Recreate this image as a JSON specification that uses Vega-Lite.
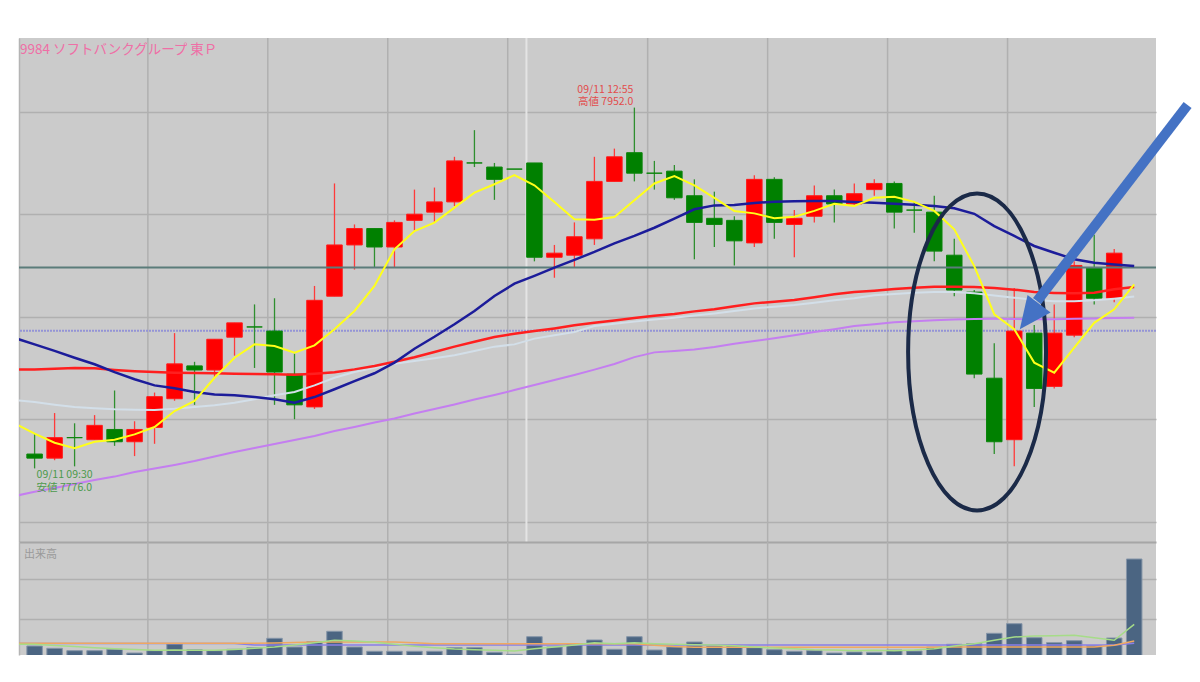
{
"$schema": "https://vega.github.io/schema/vega-lite/v6.json",
"background": "white",
"padding": {"left": 18, "top": 37, "right": 0, "bottom": 0},
"spacing": 0,
"bounds": "flush",
"config": {"view": {"fill": "#cbcbcb", "stroke": null}, "axis": {"labels": false, "ticks": false, "domain": false, "grid": false}, "font": "Noto Sans CJK JP"},
"datasets": {
"candles": [
{"i":-1,"t":"09:25","m5":7798,"m25":7839.6,"m75":7824.3,"mlb":7809.4,"mpu":7762.5,"vg":146000,"vo":154000,"vp":152000},
{"i":0,"t":"09:30","o":7783,"h":7793,"l":7776,"c":7781,"v":127000,"m5":7793,"m25":7836.5,"m75":7824.3,"mlb":7808.4,"mpu":7764.6,"vg":144000,"vo":154000,"vp":152000},
{"i":1,"t":"09:35","o":7781,"h":7803,"l":7780,"c":7791,"v":104000,"m5":7788.5,"m25":7833.3,"m75":7824.6,"mlb":7807.1,"mpu":7766.4,"vg":133000,"vo":154000,"vp":152000},
{"i":2,"t":"09:40","o":7791,"h":7798,"l":7777,"c":7791,"v":80000,"m5":7785.8,"m25":7830,"m75":7825,"mlb":7806,"mpu":7768.4,"vg":122000,"vo":154000,"vp":152000},
{"i":3,"t":"09:45","o":7790,"h":7802,"l":7790,"c":7797,"v":80000,"m5":7789,"m25":7826.8,"m75":7824.8,"mlb":7805.3,"mpu":7770.3,"vg":110000,"vo":154000,"vp":152000},
{"i":4,"t":"09:50","o":7795,"h":7814,"l":7787,"c":7789,"v":94000,"m5":7790,"m25":7823,"m75":7824,"mlb":7804.8,"mpu":7772,"vg":100000,"vo":154000,"vp":152000},
{"i":5,"t":"09:55","o":7789,"h":7799,"l":7782,"c":7795,"v":57000,"m5":7792.6,"m25":7819.5,"m75":7823.4,"mlb":7804.6,"mpu":7774.2,"vg":92000,"vo":154000,"vp":152000},
{"i":6,"t":"10:00","o":7796,"h":7813,"l":7788,"c":7811,"v":80000,"m5":7796.2,"m25":7816.5,"m75":7823,"mlb":7804.5,"mpu":7775.9,"vg":84000,"vo":154000,"vp":152000},
{"i":7,"t":"10:05","o":7810,"h":7842,"l":7809,"c":7827,"v":147000,"m5":7804,"m25":7815.1,"m75":7822.7,"mlb":7805.1,"mpu":7777.7,"vg":88000,"vo":154000,"vp":152000},
{"i":8,"t":"10:10","o":7826,"h":7828,"l":7807,"c":7824,"v":90000,"m5":7808.9,"m25":7813.3,"m75":7822.5,"mlb":7806,"mpu":7779.6,"vg":84000,"vo":154000,"vp":152000},
{"i":9,"t":"10:15","o":7824,"h":7839,"l":7820,"c":7839,"v":80000,"m5":7820.2,"m25":7812.1,"m75":7822.4,"mlb":7806.8,"mpu":7781.8,"vg":84000,"vo":154000,"vp":152000},
{"i":10,"t":"10:20","o":7840,"h":7847,"l":7831,"c":7847,"v":94000,"m5":7830,"m25":7811.7,"m75":7822.2,"mlb":7808,"mpu":7784,"vg":92000,"vo":154000,"vp":152000},
{"i":11,"t":"10:25","o":7845,"h":7856,"l":7825,"c":7845,"v":110000,"m5":7836.5,"m25":7810.8,"m75":7822,"mlb":7809.7,"mpu":7786,"vg":104000,"vo":154000,"vp":137000},
{"i":12,"t":"10:30","o":7843,"h":7859,"l":7807,"c":7823,"v":204000,"m5":7835.7,"m25":7809.7,"m75":7821.9,"mlb":7811.7,"mpu":7787.9,"vg":117000,"vo":158000,"vp":137000},
{"i":13,"t":"10:35","o":7822,"h":7832,"l":7800,"c":7807,"v":117000,"m5":7832.4,"m25":7808,"m75":7821.7,"mlb":7813.3,"mpu":7789.9,"vg":137000,"vo":162000,"vp":137000},
{"i":14,"t":"10:40","o":7806,"h":7865,"l":7805,"c":7858,"v":170000,"m5":7836,"m25":7810.8,"m75":7822.2,"mlb":7816.5,"mpu":7791.8,"vg":160000,"vo":166000,"vp":137000},
{"i":15,"t":"10:45","o":7860,"h":7915,"l":7860,"c":7885,"v":274000,"m5":7843.9,"m25":7814.6,"m75":7822.9,"mlb":7820.2,"mpu":7794.2,"vg":184000,"vo":166000,"vp":137000},
{"i":16,"t":"10:50","o":7885,"h":7895,"l":7873,"c":7893,"v":117000,"m5":7852.8,"m25":7818.6,"m75":7824.3,"mlb":7823,"mpu":7796.2,"vg":177000,"vo":166000,"vp":137000},
{"i":17,"t":"10:55","o":7893,"h":7893,"l":7874,"c":7884,"v":74000,"m5":7865,"m25":7822.4,"m75":7826,"mlb":7825.1,"mpu":7798.4,"vg":165000,"vo":166000,"vp":137000},
{"i":18,"t":"11:00","o":7884,"h":7897,"l":7874,"c":7896,"v":74000,"m5":7882.9,"m25":7827.6,"m75":7828,"mlb":7827.1,"mpu":7800.3,"vg":144000,"vo":166000,"vp":137000},
{"i":19,"t":"11:05","o":7897,"h":7912,"l":7892,"c":7900,"v":74000,"m5":7891.8,"m25":7834.4,"m75":7830.2,"mlb":7828.4,"mpu":7802.8,"vg":125000,"vo":160000,"vp":137000},
{"i":20,"t":"11:10","o":7901,"h":7913,"l":7896,"c":7906,"v":74000,"m5":7895.9,"m25":7840.2,"m75":7832.8,"mlb":7829.7,"mpu":7805,"vg":110000,"vo":150000,"vp":137000},
{"i":21,"t":"11:15","o":7906,"h":7928,"l":7904,"c":7926,"v":110000,"m5":7903.2,"m25":7846.3,"m75":7835.4,"mlb":7831.2,"mpu":7807.2,"vg":97000,"vo":150000,"vp":137000},
{"i":22,"t":"11:20","o":7925,"h":7941,"l":7923,"c":7925,"v":110000,"m5":7910.5,"m25":7852.8,"m75":7837.8,"mlb":7833.3,"mpu":7809.6,"vg":90000,"vo":150000,"vp":137000},
{"i":23,"t":"11:25","o":7923,"h":7925,"l":7907,"c":7917,"v":64000,"m5":7914.6,"m25":7860.1,"m75":7840.1,"mlb":7835.4,"mpu":7811.8,"vg":84000,"vo":150000,"vp":137000},
{"i":24,"t":"11:30","o":7922,"h":7922,"l":7922,"c":7922,"v":44000,"m5":7919.1,"m25":7866.1,"m75":7841.7,"mlb":7836.5,"mpu":7814.2,"vg":77000,"vo":150000,"vp":137000},
{"i":25,"t":"12:30","o":7925,"h":7925,"l":7877,"c":7879,"v":220000,"m5":7914.1,"m25":7869.9,"m75":7843,"mlb":7839.3,"mpu":7816.7,"vg":100000,"vo":150000,"vp":137000},
{"i":26,"t":"12:35","o":7879,"h":7885,"l":7869,"c":7881,"v":117000,"m5":7906,"m25":7873.9,"m75":7844.3,"mlb":7840.9,"mpu":7819.1,"vg":117000,"vo":150000,"vp":137000},
{"i":27,"t":"12:40","o":7880,"h":7896,"l":7874,"c":7889,"v":147000,"m5":7897.5,"m25":7877.7,"m75":7845.8,"mlb":7842.5,"mpu":7821.6,"vg":137000,"vo":150000,"vp":137000},
{"i":28,"t":"12:45","o":7888,"h":7928,"l":7885,"c":7916,"v":187000,"m5":7897.3,"m25":7881.6,"m75":7847.1,"mlb":7845.5,"mpu":7824.2,"vg":160000,"vo":150000,"vp":137000},
{"i":29,"t":"12:50","o":7916,"h":7932,"l":7916,"c":7928,"v":94000,"m5":7898.6,"m25":7885.8,"m75":7848.2,"mlb":7846.6,"mpu":7826.9,"vg":150000,"vo":150000,"vp":137000},
{"i":30,"t":"12:55","o":7930,"h":7952,"l":7916,"c":7920,"v":220000,"m5":7906.8,"m25":7889.4,"m75":7849.4,"mlb":7847.6,"mpu":7830.3,"vg":160000,"vo":150000,"vp":137000},
{"i":31,"t":"13:00","o":7920,"h":7926,"l":7912,"c":7920,"v":87000,"m5":7915,"m25":7893.4,"m75":7850.5,"mlb":7848.6,"mpu":7832.6,"vg":150000,"vo":135000,"vp":137000},
{"i":32,"t":"13:05","o":7921,"h":7924,"l":7907,"c":7908,"v":117000,"m5":7918.6,"m25":7897.8,"m75":7851.3,"mlb":7849.5,"mpu":7833.3,"vg":144000,"vo":122000,"vp":137000},
{"i":33,"t":"13:10","o":7909,"h":7917,"l":7878,"c":7896,"v":167000,"m5":7914.1,"m25":7902.4,"m75":7852.6,"mlb":7850.6,"mpu":7834,"vg":140000,"vo":115000,"vp":137000},
{"i":34,"t":"13:15","o":7898,"h":7911,"l":7884,"c":7895,"v":127000,"m5":7908,"m25":7904.3,"m75":7853.6,"mlb":7851.6,"mpu":7835.2,"vg":137000,"vo":115000,"vp":137000},
{"i":35,"t":"13:20","o":7897,"h":7899,"l":7875,"c":7887,"v":127000,"m5":7901.6,"m25":7904.5,"m75":7855.1,"mlb":7852.8,"mpu":7836.8,"vg":130000,"vo":115000,"vp":137000},
{"i":36,"t":"13:25","o":7886,"h":7919,"l":7884,"c":7917,"v":110000,"m5":7900.4,"m25":7905.5,"m75":7856.5,"mlb":7854,"mpu":7838.1,"vg":117000,"vo":115000,"vp":137000},
{"i":37,"t":"13:30","o":7917,"h":7918,"l":7888,"c":7896,"v":90000,"m5":7898,"m25":7906.1,"m75":7857.3,"mlb":7854.9,"mpu":7839.5,"vg":107000,"vo":115000,"vp":137000},
{"i":38,"t":"13:35","o":7895,"h":7902,"l":7879,"c":7898,"v":74000,"m5":7898.8,"m25":7906.3,"m75":7858.1,"mlb":7855.7,"mpu":7840.9,"vg":100000,"vo":115000,"vp":137000},
{"i":39,"t":"13:40","o":7899,"h":7914,"l":7896,"c":7909,"v":80000,"m5":7901.6,"m25":7906.4,"m75":7859.5,"mlb":7856.8,"mpu":7842.5,"vg":90000,"vo":115000,"vp":137000},
{"i":40,"t":"13:45","o":7909,"h":7912,"l":7896,"c":7905,"v":57000,"m5":7905.1,"m25":7906.4,"m75":7860.9,"mlb":7858,"mpu":7843.9,"vg":87000,"vo":115000,"vp":137000},
{"i":41,"t":"13:50","o":7905,"h":7915,"l":7904,"c":7910,"v":67000,"m5":7904,"m25":7906,"m75":7862,"mlb":7859,"mpu":7845.5,"vg":80000,"vo":115000,"vp":137000},
{"i":42,"t":"13:55","o":7912,"h":7917,"l":7909,"c":7915,"v":64000,"m5":7908,"m25":7905.6,"m75":7862.7,"mlb":7860.5,"mpu":7846.3,"vg":84000,"vo":115000,"vp":137000},
{"i":43,"t":"14:00","o":7915,"h":7916,"l":7893,"c":7901,"v":87000,"m5":7908.5,"m25":7905.1,"m75":7863.5,"mlb":7861.1,"mpu":7847.3,"vg":80000,"vo":115000,"vp":137000},
{"i":44,"t":"14:05","o":7902,"h":7906,"l":7891,"c":7902,"v":77000,"m5":7906,"m25":7904.6,"m75":7864.1,"mlb":7861.7,"mpu":7847.8,"vg":87000,"vo":115000,"vp":137000},
{"i":45,"t":"14:10","o":7901,"h":7909,"l":7877,"c":7882,"v":117000,"m5":7901.6,"m25":7904,"m75":7864.6,"mlb":7862,"mpu":7848.3,"vg":100000,"vo":115000,"vp":137000},
{"i":46,"t":"14:15","o":7880,"h":7888,"l":7860,"c":7863,"v":144000,"m5":7892.6,"m25":7902.9,"m75":7864.6,"mlb":7862,"mpu":7848.6,"vg":127000,"vo":118000,"vp":137000},
{"i":47,"t":"14:20","o":7862,"h":7863,"l":7820,"c":7822,"v":150000,"m5":7874.7,"m25":7900.2,"m75":7864.5,"mlb":7861.4,"mpu":7848.9,"vg":150000,"vo":118000,"vp":137000},
{"i":48,"t":"14:25","o":7820,"h":7837,"l":7783,"c":7789,"v":254000,"m5":7851.2,"m25":7894.2,"m75":7864,"mlb":7860.4,"mpu":7849,"vg":184000,"vo":118000,"vp":137000},
{"i":49,"t":"14:30","o":7790,"h":7864,"l":7777,"c":7843,"v":350000,"m5":7843.9,"m25":7889.4,"m75":7863.2,"mlb":7859.3,"mpu":7848.9,"vg":217000,"vo":118000,"vp":137000},
{"i":50,"t":"14:35","o":7842,"h":7846,"l":7806,"c":7815,"v":210000,"m5":7827.6,"m25":7884.5,"m75":7862,"mlb":7858.1,"mpu":7848.7,"vg":227000,"vo":118000,"vp":137000},
{"i":51,"t":"14:40","o":7816,"h":7856,"l":7815,"c":7842,"v":160000,"m5":7822.7,"m25":7881.2,"m75":7861.6,"mlb":7857.5,"mpu":7848.8,"vg":230000,"vo":118000,"vp":137000},
{"i":52,"t":"14:45","o":7841,"h":7877,"l":7840,"c":7875,"v":180000,"m5":7834.9,"m25":7878,"m75":7861.4,"mlb":7857.5,"mpu":7849,"vg":234000,"vo":118000,"vp":137000},
{"i":53,"t":"14:50","o":7874,"h":7890,"l":7856,"c":7859,"v":130000,"m5":7847,"m25":7876.3,"m75":7861.7,"mlb":7858,"mpu":7849.1,"vg":210000,"vo":118000,"vp":137000},
{"i":54,"t":"14:55","o":7859,"h":7883,"l":7857,"c":7881,"v":207000,"m5":7853.6,"m25":7875.5,"m75":7863.4,"mlb":7858.8,"mpu":7849.4,"vg":184000,"vo":135000,"vp":137000},
{"i":55,"t":"15:00","o":7874,"h":7874,"l":7874,"c":7874,"v":997000,"m5":7865.8,"m25":7874.7,"m75":7864.5,"mlb":7859.8,"mpu":7849.5,"vg":344000,"vo":177000,"vp":154000}
],
"levels": [{"name":"last","p":7874},{"name":"ref","p":7843.2}],
"notes": [
{"kind":"high","i":30,"p":7952,"lines":["09/11 12:55","高値 7952.0"]},
{"kind":"low","i":0,"p":7776,"lines":["09/11 09:30","安値 7776.0"]},
{"kind":"ellipse","i":47.14,"p":7832.8},
{"kind":"arrow","i":57.67,"p":7953.3,"i2":50.14,"p2":7857.6},
{"kind":"head","i":49.76,"p":7850.1}
]
},
"vconcat": [
{
"width": 1137, "height": 504,
"title": {"text": "9984 ソフトバンクグループ 東Ｐ", "anchor": "start", "frame": "group", "orient": "top", "offset": -30, "dx": 1, "baseline": "alphabetic", "color": "#ef6fa6", "fontSize": 13.5, "fontWeight": "normal", "font": "Noto Sans CJK JP"},
"data": {"name": "candles"},
"layer": [
{"transform": [{"filter": {"field": "t", "oneOf": ["10:00","10:30","11:00","11:30","13:00","13:30","14:00","14:30"]}}],
 "mark": {"type": "rule", "color": "#b0b0b0", "strokeWidth": 1.5, "xOffset": -6.7},
 "encoding": {"x": {"field": "i", "type": "quantitative", "scale": {"domain": [-0.53, 55.84], "nice": false, "zero": false}, "axis": {"title": null, "grid": false, "labels": false, "ticks": false, "domain": false}}}},
{"transform": [{"filter": "datum.t == '12:30'"}],
 "mark": {"type": "rule", "color": "#e4e4e4", "strokeWidth": 2, "xOffset": -8},
 "encoding": {"x": {"field": "i", "type": "quantitative", "scale": {"domain": [-0.53, 55.84], "nice": false, "zero": false}, "axis": {"title": null}}}},
{"data": {"name": "levels"}, "transform": [{"filter": "datum.name == 'ref'"}],
 "mark": {"type": "rule", "color": "#9494d6", "strokeWidth": 2, "strokeDash": [2, 1]},
 "encoding": {"y": {"field": "p", "type": "quantitative", "scale": {"domain": [7740.1, 7985.95], "nice": false, "zero": false}, "axis": {"grid": true, "values": [7750, 7800, 7850, 7900, 7950], "gridColor": "#b0b0b0", "gridWidth": 1.5, "labels": false, "ticks": false, "domain": true, "domainColor": "#b4b4b4", "domainWidth": 1.5, "title": null}}}},
{"transform": [{"filter": "datum.o != null"}],
 "mark": {"type": "rule", "strokeWidth": 1.3},
 "encoding": {
  "x": {"field": "i", "type": "quantitative", "scale": {"domain": [-0.53, 55.84], "nice": false, "zero": false}, "axis": {"title": null}},
  "y": {"field": "l", "type": "quantitative", "scale": {"domain": [7740.1, 7985.95], "nice": false, "zero": false}, "axis": {"title": null}},
  "y2": {"field": "h"},
  "color": {"condition": {"test": "datum.c > datum.o", "value": "#ff3a3a"}, "value": "#2f8f2f"}}},
{"transform": [{"filter": "datum.o != null"}],
 "mark": {"type": "bar", "size": 15.5, "strokeWidth": 1},
 "encoding": {
  "x": {"field": "i", "type": "quantitative", "scale": {"domain": [-0.53, 55.84], "nice": false, "zero": false}, "axis": {"title": null}},
  "y": {"field": "o", "type": "quantitative", "scale": {"domain": [7740.1, 7985.95], "nice": false, "zero": false}, "axis": {"title": null}},
  "y2": {"field": "c"},
  "fill": {"condition": {"test": "datum.c > datum.o", "value": "#ff0000"}, "value": "#008000"},
  "stroke": {"condition": {"test": "datum.c > datum.o", "value": "#ff1a1a"}, "value": "#0b850b"}}},
{"data": {"name": "levels"}, "transform": [{"filter": "datum.name == 'last'"}],
 "mark": {"type": "rule", "color": "#5b7c7a", "strokeWidth": 2},
 "encoding": {"y": {"field": "p", "type": "quantitative", "scale": {"domain": [7740.1, 7985.95], "nice": false, "zero": false}, "axis": {"title": null}}}},
{"mark": {"type": "line", "color": "#c47ef0", "strokeWidth": 2, "clip": true},
 "encoding": {"x": {"field": "i", "type": "quantitative", "scale": {"domain": [-0.53, 55.84], "nice": false, "zero": false}, "axis": {"title": null}},
  "y": {"field": "mpu", "type": "quantitative", "scale": {"domain": [7740.1, 7985.95], "nice": false, "zero": false}, "axis": {"title": null}}}},
{"mark": {"type": "line", "color": "#d3dfe9", "strokeWidth": 2, "clip": true},
 "encoding": {"x": {"field": "i", "type": "quantitative", "scale": {"domain": [-0.53, 55.84], "nice": false, "zero": false}, "axis": {"title": null}},
  "y": {"field": "mlb", "type": "quantitative", "scale": {"domain": [7740.1, 7985.95], "nice": false, "zero": false}, "axis": {"title": null}}}},
{"mark": {"type": "line", "color": "#ff1f1f", "strokeWidth": 2.5, "clip": true},
 "encoding": {"x": {"field": "i", "type": "quantitative", "scale": {"domain": [-0.53, 55.84], "nice": false, "zero": false}, "axis": {"title": null}},
  "y": {"field": "m75", "type": "quantitative", "scale": {"domain": [7740.1, 7985.95], "nice": false, "zero": false}, "axis": {"title": null}}}},
{"mark": {"type": "line", "color": "#1c1c9a", "strokeWidth": 2.5, "clip": true},
 "encoding": {"x": {"field": "i", "type": "quantitative", "scale": {"domain": [-0.53, 55.84], "nice": false, "zero": false}, "axis": {"title": null}},
  "y": {"field": "m25", "type": "quantitative", "scale": {"domain": [7740.1, 7985.95], "nice": false, "zero": false}, "axis": {"title": null}}}},
{"mark": {"type": "line", "color": "#ffff1a", "strokeWidth": 2, "clip": true},
 "encoding": {"x": {"field": "i", "type": "quantitative", "scale": {"domain": [-0.53, 55.84], "nice": false, "zero": false}, "axis": {"title": null}},
  "y": {"field": "m5", "type": "quantitative", "scale": {"domain": [7740.1, 7985.95], "nice": false, "zero": false}, "axis": {"title": null}}}},
{"data": {"name": "notes"}, "transform": [{"filter": "datum.kind == 'high'"}],
 "mark": {"type": "text", "align": "right", "baseline": "alphabetic", "dx": -1, "dy": -15, "lineHeight": 12.8, "fontSize": 10.5, "color": "#e24b4b", "font": "Noto Sans CJK JP"},
 "encoding": {"x": {"field": "i", "type": "quantitative", "scale": {"domain": [-0.53, 55.84], "nice": false, "zero": false}, "axis": {"title": null}},
  "y": {"field": "p", "type": "quantitative", "scale": {"domain": [7740.1, 7985.95], "nice": false, "zero": false}, "axis": {"title": null}},
  "text": {"field": "lines"}}},
{"data": {"name": "notes"}, "transform": [{"filter": "datum.kind == 'low'"}],
 "mark": {"type": "text", "align": "left", "baseline": "alphabetic", "dx": 2, "dy": 10, "lineHeight": 12.8, "fontSize": 10.5, "color": "#4c9a4c", "font": "Noto Sans CJK JP"},
 "encoding": {"x": {"field": "i", "type": "quantitative", "scale": {"domain": [-0.53, 55.84], "nice": false, "zero": false}, "axis": {"title": null}},
  "y": {"field": "p", "type": "quantitative", "scale": {"domain": [7740.1, 7985.95], "nice": false, "zero": false}, "axis": {"title": null}},
  "text": {"field": "lines"}}},
{"data": {"name": "notes"}, "transform": [{"filter": "datum.kind == 'ellipse'"}],
 "mark": {"type": "point", "shape": "M0,-1C0.2403,-1,0.435,-0.5523,0.435,0C0.435,0.5523,0.2403,1,0,1C-0.2403,1,-0.435,0.5523,-0.435,0C-0.435,-0.5523,-0.2403,-1,0,-1Z", "size": 100489, "filled": false, "stroke": "#1b2a48", "strokeWidth": 4, "opacity": 1},
 "encoding": {"x": {"field": "i", "type": "quantitative", "scale": {"domain": [-0.53, 55.84], "nice": false, "zero": false}, "axis": {"title": null}},
  "y": {"field": "p", "type": "quantitative", "scale": {"domain": [7740.1, 7985.95], "nice": false, "zero": false}, "axis": {"title": null}}}},
{"data": {"name": "notes"}, "transform": [{"filter": "datum.kind == 'arrow'"}],
 "mark": {"type": "rule", "color": "#4472c4", "strokeWidth": 10, "strokeCap": "butt"},
 "encoding": {"x": {"field": "i", "type": "quantitative", "scale": {"domain": [-0.53, 55.84], "nice": false, "zero": false}, "axis": {"title": null}},
  "y": {"field": "p", "type": "quantitative", "scale": {"domain": [7740.1, 7985.95], "nice": false, "zero": false}, "axis": {"title": null}},
  "x2": {"field": "i2"}, "y2": {"field": "p2"}}},
{"data": {"name": "notes"}, "transform": [{"filter": "datum.kind == 'head'"}],
 "mark": {"type": "point", "shape": "M0,-1L0.9,1L-0.9,1Z", "size": 1024, "angle": 217, "filled": true, "color": "#4472c4", "opacity": 1},
 "encoding": {"x": {"field": "i", "type": "quantitative", "scale": {"domain": [-0.53, 55.84], "nice": false, "zero": false}, "axis": {"title": null}},
  "y": {"field": "p", "type": "quantitative", "scale": {"domain": [7740.1, 7985.95], "nice": false, "zero": false}, "axis": {"title": null}}}}
]
},
{
"width": 1137, "height": 113,
"title": {"text": "出来高", "anchor": "start", "frame": "group", "orient": "top", "offset": -28, "dx": 5, "baseline": "alphabetic", "color": "#9a9a9a", "fontSize": 11, "fontWeight": "normal", "font": "Noto Sans CJK JP"},
"data": {"name": "candles"},
"layer": [
{"transform": [{"filter": {"field": "t", "oneOf": ["10:00","10:30","11:00","11:30","13:00","13:30","14:00","14:30"]}}],
 "mark": {"type": "rule", "color": "#b0b0b0", "strokeWidth": 1.5, "xOffset": -6.7},
 "encoding": {"x": {"field": "i", "type": "quantitative", "scale": {"domain": [-0.53, 55.84], "nice": false, "zero": false}, "axis": {"orient": "top", "domain": true, "domainColor": "#a6a6a6", "domainWidth": 2, "labels": false, "ticks": false, "grid": false, "title": null}}}},
{"transform": [{"filter": "datum.v != null"}],
 "mark": {"type": "bar", "size": 15.5, "fill": "#4b6582", "stroke": "#8595a8", "strokeWidth": 1, "clip": true},
 "encoding": {"x": {"field": "i", "type": "quantitative", "scale": {"domain": [-0.53, 55.84], "nice": false, "zero": false}, "axis": {"title": null}},
  "y": {"field": "v", "type": "quantitative", "scale": {"domain": [37000, 1167000], "nice": false, "zero": false}, "axis": {"grid": true, "values": [400000, 800000], "gridColor": "#b0b0b0", "gridWidth": 1.5, "labels": false, "ticks": false, "domain": true, "domainColor": "#b4b4b4", "domainWidth": 1.5, "title": null}},
  "y2": {"datum": 0}}},
{"mark": {"type": "line", "color": "#8a7fe8", "strokeWidth": 1.5, "clip": true},
 "encoding": {"x": {"field": "i", "type": "quantitative", "scale": {"domain": [-0.53, 55.84], "nice": false, "zero": false}, "axis": {"title": null}},
  "y": {"field": "vp", "type": "quantitative", "scale": {"domain": [37000, 1167000], "nice": false, "zero": false}, "axis": {"title": null}}}},
{"mark": {"type": "line", "color": "#f0a860", "strokeWidth": 1.5, "clip": true},
 "encoding": {"x": {"field": "i", "type": "quantitative", "scale": {"domain": [-0.53, 55.84], "nice": false, "zero": false}, "axis": {"title": null}},
  "y": {"field": "vo", "type": "quantitative", "scale": {"domain": [37000, 1167000], "nice": false, "zero": false}, "axis": {"title": null}}}},
{"mark": {"type": "line", "color": "#a6dc88", "strokeWidth": 1.5, "clip": true},
 "encoding": {"x": {"field": "i", "type": "quantitative", "scale": {"domain": [-0.53, 55.84], "nice": false, "zero": false}, "axis": {"title": null}},
  "y": {"field": "vg", "type": "quantitative", "scale": {"domain": [37000, 1167000], "nice": false, "zero": false}, "axis": {"title": null}}}}
]
}
]
}
